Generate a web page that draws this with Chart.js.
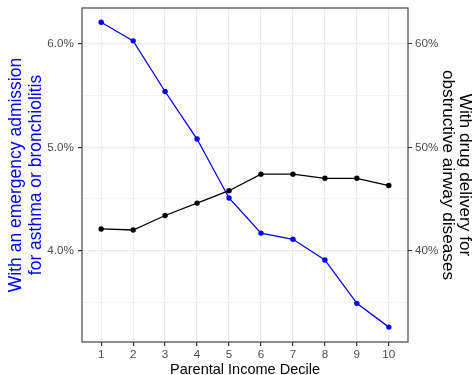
<!DOCTYPE html>
<html>
<head>
<meta charset="utf-8">
<title>Parental income decile</title>
<script src="https://cdn.jsdelivr.net/npm/chart.js@4.4.0/dist/chart.umd.min.js"></script>
<style>
  html, body { margin: 0; padding: 0; background: #ffffff; }
  canvas { display: block; }
</style>
</head>
<body>
<canvas id="chart" width="473" height="375"></canvas>
<script>
// values
const deciles = [1, 2, 3, 4, 5, 6, 7, 8, 9, 10];
const admissionPct = [6.21, 6.03, 5.54, 5.08, 4.51, 4.17, 4.11, 3.91, 3.49, 3.26];
const drugDeliveryPct = [42.1, 42.0, 43.4, 44.6, 45.8, 47.4, 47.4, 47.0, 47.0, 46.3];
const leftTicks = [3.5, 4.0, 4.5, 5.0, 5.5, 6.0];
const rightTicks = [35, 40, 45, 50, 55, 60];

Chart.defaults.font.family = "'Liberation Sans', Arial, sans-serif";

const isMajorLeft = v => Math.abs(v - Math.round(v)) < 1e-9;
const isMajorRight = v => v % 10 === 0;

const panelBorder = {
  id: 'panelBorder',
  afterDatasetsDraw(chart) {
    const { ctx, chartArea: a } = chart;
    ctx.save();
    ctx.strokeStyle = '#333333';
    ctx.lineWidth = 1.1;
    ctx.strokeRect(a.left, a.top, a.right - a.left, a.bottom - a.top);
    ctx.restore();
  }
};

new Chart(document.getElementById('chart').getContext('2d'), {
  type: 'line',
  data: {
    datasets: [
      {
        label: 'With drug delivery for obstructive airway diseases',
        data: deciles.map((d, i) => ({ x: d, y: drugDeliveryPct[i] })),
        yAxisID: 'y2',
        borderColor: '#000000',
        backgroundColor: '#000000',
        borderWidth: 1.3,
        pointRadius: 2.7,
        pointBorderWidth: 0,
        order: 0
      },
      {
        label: 'With an emergency admission for asthma or bronchiolitis',
        data: deciles.map((d, i) => ({ x: d, y: admissionPct[i] })),
        yAxisID: 'y',
        borderColor: '#0000FF',
        backgroundColor: '#0000FF',
        borderWidth: 1.3,
        pointRadius: 2.7,
        pointBorderWidth: 0,
        order: 1
      }
    ]
  },
  options: {
    responsive: false,
    animation: false,
    devicePixelRatio: 1,
    layout: { padding: { top: 8, left: 0, right: 0, bottom: 0 } },
    plugins: { legend: { display: false }, tooltip: { enabled: false } },
    scales: {
      x: {
        type: 'linear',
        min: 0.4,
        max: 10.6,
        afterBuildTicks: s => { s.ticks = deciles.map(v => ({ value: v })); },
        afterFit: s => { s.height = 33; },
        border: { display: false },
        grid: { color: '#EBEBEB', lineWidth: 1.2, tickColor: '#333333', tickLength: 4 },
        ticks: {
          color: '#4D4D4D',
          font: { size: 11.7 },
          padding: 2,
          maxRotation: 0,
          autoSkip: false,
          callback: v => String(v)
        },
        title: {
          display: true,
          text: 'Parental Income Decile',
          color: '#000000',
          font: { size: 14.5, lineHeight: 1 },
          padding: { top: 0, bottom: -2 }
        }
      },
      y: {
        type: 'linear',
        position: 'left',
        min: 3.116,
        max: 6.348,
        afterBuildTicks: s => { s.ticks = leftTicks.map(v => ({ value: v })); },
        afterFit: s => { s.width = 82; s.paddingTop = 0; s.paddingBottom = 0; },
        border: { display: false },
        grid: {
          color: '#EBEBEB',
          lineWidth: c => isMajorLeft(c.tick.value) ? 1.2 : 0.6,
          tickColor: c => isMajorLeft(c.tick.value) ? '#333333' : 'rgba(0,0,0,0)',
          tickLength: 4
        },
        ticks: {
          color: '#4D4D4D',
          font: { size: 11.7 },
          padding: 4,
          autoSkip: false,
          callback: v => isMajorLeft(v) ? v.toFixed(1) + '%' : ''
        },
        title: {
          display: true,
          text: ['With an emergency admission', 'for asthma or bronchiolitis'],
          color: '#0000FF',
          font: { size: 17.5, lineHeight: 1.15 },
          padding: { top: 6, bottom: 0 }
        }
      },
      y2: {
        type: 'linear',
        position: 'right',
        min: 31.16,
        max: 63.48,
        afterBuildTicks: s => { s.ticks = rightTicks.map(v => ({ value: v })); },
        afterFit: s => { s.width = 65; s.paddingTop = 0; s.paddingBottom = 0; },
        border: { display: false },
        grid: {
          drawOnChartArea: false,
          tickColor: c => isMajorRight(c.tick.value) ? '#333333' : 'rgba(0,0,0,0)',
          tickLength: 4
        },
        ticks: {
          color: '#4D4D4D',
          font: { size: 11.7 },
          padding: 3,
          autoSkip: false,
          callback: v => isMajorRight(v) ? v + '%' : ''
        },
        title: {
          display: true,
          text: ['With drug delivery for', 'obstructive airway diseases'],
          color: '#000000',
          font: { size: 17.2, lineHeight: 1 },
          padding: { top: -0.5, bottom: 0 }
        }
      }
    }
  },
  plugins: [panelBorder]
});
</script>
</body>
</html>
